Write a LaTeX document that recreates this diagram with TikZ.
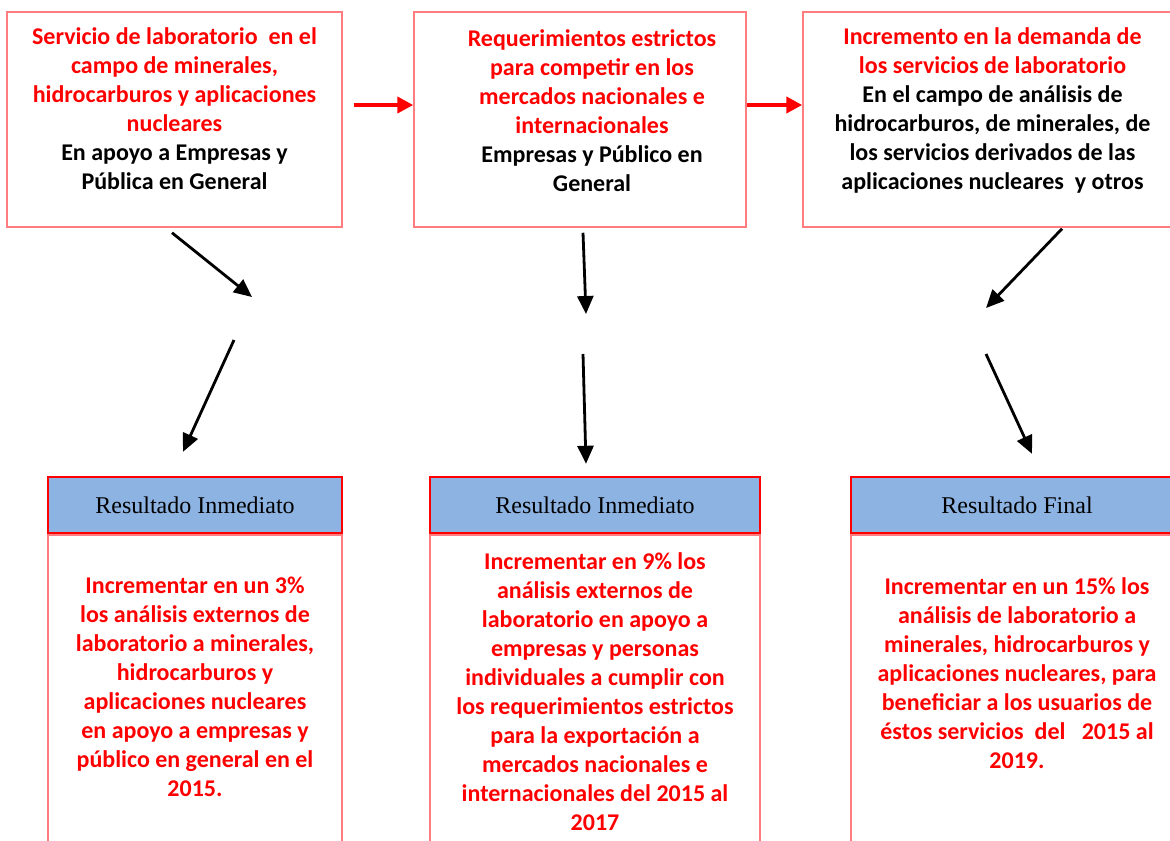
\documentclass[tikz,border=0pt]{standalone}
\usepackage{fontspec}
\setmainfont{Carlito}
\newfontfamily\hdfont{Liberation Serif}
\usetikzlibrary{positioning,arrows.meta}
\definecolor{boxred}{HTML}{FF7C80}
\definecolor{hdblue}{HTML}{8DB3E2}

\begin{document}
\begin{tikzpicture}[x=0.5pt,y=0.5pt]
   \tikzstyle{every node}=[inner sep=0pt]
   \tikzstyle{topbox}=[draw=boxred,line width=0.75pt,minimum height=107.5pt]
   \tikzstyle{txt}=[align=center,text=red,font=\fontsize{12}{14.5}\selectfont\bfseries]
   \tikzstyle{resbody}=[draw=boxred,line width=0.8pt,minimum height=182.5pt]
   \tikzstyle{reshead}=[draw=red,line width=1.2pt,fill=hdblue,minimum height=28pt,font=\hdfont\fontsize{12}{14.5}\selectfont]
   \tikzstyle{redarrow}=[red,line width=2pt,-{Triangle[length=8pt,width=8pt]}]
   \tikzstyle{blkarrow}=[black,line width=1.4pt,-{Triangle[length=9pt,width=8pt]}]

   \useasboundingbox (0,0) rectangle (1170,-840) ;
   \clip (0,0) rectangle (1170,-840) ;

   \node (b1) [topbox,minimum width=167.5pt] at (174.5,-119.5) {} ;
   \node (b2) [topbox,minimum width=166pt] at (580,-119.5) {} ;
   \node (b3) [topbox,minimum width=189.5pt] at (992.5,-119.5) {} ;

   \node (t1) [txt,below=8pt of b1.north] {Servicio de laboratorio\ \ en el\\campo de minerales,\\hidrocarburos y aplicaciones\\nucleares\\\color{black}En apoyo a Empresas y\\\color{black}Pública en General} ;
   \node (t2) [txt,below=9pt of b2.north,xshift=6pt] {Requerimientos estrictos\\para competir en los\\mercados nacionales e\\internacionales\\\color{black}Empresas y Público en\\\color{black}General} ;
   \node (t3) [txt,below=8pt of b3.north] {Incremento en la demanda de\\los servicios de laboratorio\\\color{black}En el campo de análisis de\\\color{black}hidrocarburos, de minerales, de\\\color{black}los servicios derivados de las\\\color{black}aplicaciones nucleares\ \ y otros} ;

   \draw [redarrow] ([xshift=5.5pt,yshift=7.25pt]b1.east) -- ([yshift=7.25pt]b2.west) ;
   \draw [redarrow] ([yshift=7.25pt]b2.east) -- ([yshift=7.25pt]b3.west) ;

   \node (r1) [resbody,minimum width=147pt] at (195,-717.5) {} ;
   \node (h1) [reshead,minimum width=147pt,above=0pt of r1] {Resultado Inmediato} ;
   \node (r2) [resbody,minimum width=165pt] at (595,-717.5) {} ;
   \node (h2) [reshead,minimum width=165pt,above=0pt of r2] {Resultado Inmediato} ;
   \node (r3) [resbody,minimum width=166pt] at (1017,-717.5) {} ;
   \node (h3) [reshead,minimum width=166pt,above=0pt of r3] {Resultado Final} ;

   \node (s1) [txt,below=21pt of h1.south] {Incrementar en un 3\%\\los análisis externos de\\laboratorio a minerales,\\hidrocarburos y\\aplicaciones nucleares\\en apoyo a empresas y\\público en general en el\\2015.} ;
   \node (s2) [txt,below=9pt of h2.south] {Incrementar en 9\% los\\análisis externos de\\laboratorio en apoyo a\\empresas y personas\\individuales a cumplir con\\los requerimientos estrictos\\para la exportación a\\mercados nacionales e\\internacionales del 2015 al\\2017} ;
   \node (s3) [txt,below=21.5pt of h3.south] {Incrementar en un 15\% los\\análisis de laboratorio a\\minerales, hidrocarburos y\\aplicaciones nucleares, para\\beneficiar a los usuarios de\\éstos servicios\ \ del\ \ \ 2015 al\\2019.} ;

   \coordinate (p1) at (252,-297) ;
   \coordinate (q1) at (234,-340) ;
   \coordinate (p2) at (586,-314) ;
   \coordinate (q2) at (583,-354) ;
   \coordinate (p3) at (986,-308) ;
   \coordinate (q3) at (986,-354) ;

   \draw [blkarrow] ([shift={(-2.5,-5)}]b1.south) -- (p1) ;
   \draw [blkarrow] (q1) -- ([shift={(-12,24)}]h1.north) ;
   \draw [blkarrow] ([shift={(3,-5)}]b2.south) -- (p2) ;
   \draw [blkarrow] (q2) -- ([shift={(-9,12)}]h2.north) ;
   \draw [blkarrow] ([shift={(69.5,-1)}]b3.south) -- (p3) ;
   \draw [blkarrow] (q3) -- ([shift={(15,22)}]h3.north) ;

\end{tikzpicture}
\end{document}
